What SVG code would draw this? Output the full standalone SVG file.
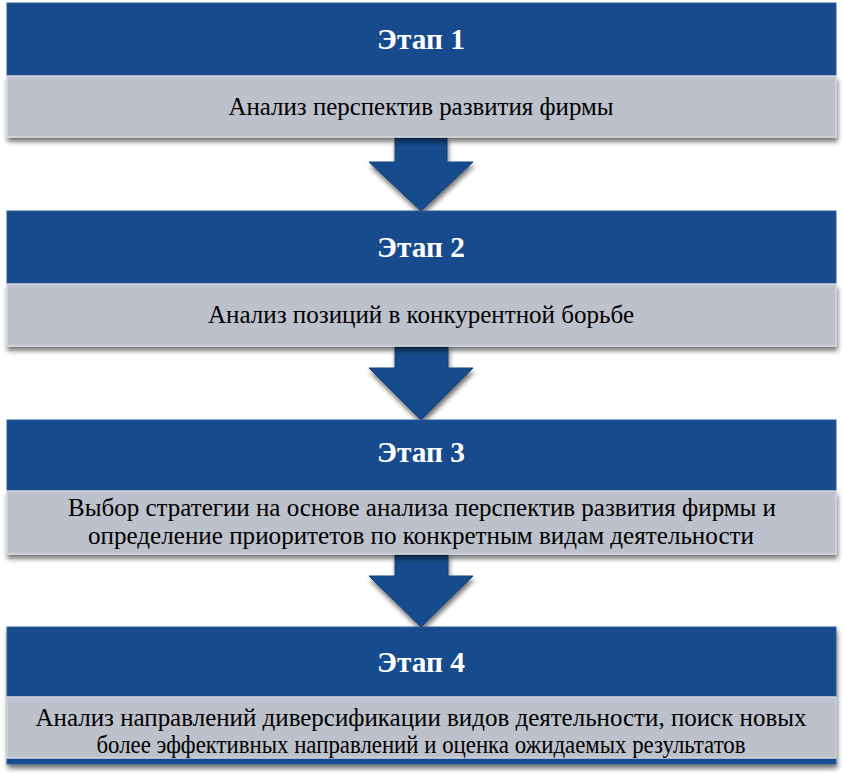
<svg xmlns="http://www.w3.org/2000/svg" width="843" height="773" viewBox="0 0 843 773">
<defs>
<filter id="sh" x="-5%" y="-20%" width="110%" height="150%">
<feGaussianBlur in="SourceAlpha" stdDeviation="2.5"/>
<feOffset dx="1" dy="4" result="b"/>
<feComponentTransfer><feFuncA type="linear" slope="0.55"/></feComponentTransfer>
<feMerge><feMergeNode/><feMergeNode in="SourceGraphic"/></feMerge>
</filter>
</defs>
<style>
.hdr{fill:#174b8d;stroke:#2a5a98;stroke-width:1}
.body{fill:#bcc1cb;stroke:#d3d7de;stroke-width:1.5}
.arr{fill:#174b8d;stroke:#12407c;stroke-width:1}
</style>
<g id="connectors">
<path class="arr" filter="url(#sh)" d="M395,137 L447,137 L447,162 L473,162 L421,211 L369,162 L395,162 Z"/>
<path class="arr" filter="url(#sh)" d="M395,346 L448,346 L448,368 L473,368 L421,420 L369,368 L395,368 Z"/>
<path class="arr" filter="url(#sh)" d="M395,554 L448,554 L448,576 L473,576 L421,627 L369,576 L395,576 Z"/>
</g>
<g font-family="Liberation Serif, Times New Roman, serif" text-anchor="middle">
<g id="stage1">
<rect class="hdr" x="7" y="3" width="829" height="73"/>
<rect class="body" filter="url(#sh)" x="7" y="76" width="829" height="61"/>
<text fill="#fff" font-weight="bold" font-size="29" x="421" y="49" textLength="88" lengthAdjust="spacingAndGlyphs">Этап 1</text>
<text fill="#000" font-size="26" x="421" y="115" textLength="385" lengthAdjust="spacingAndGlyphs">Анализ перспектив развития фирмы</text>
</g>
<g id="stage2">
<rect class="hdr" x="7" y="211" width="829" height="73"/>
<rect class="body" filter="url(#sh)" x="7" y="284" width="829" height="62"/>
<text fill="#fff" font-weight="bold" font-size="29" x="421" y="257" textLength="88" lengthAdjust="spacingAndGlyphs">Этап 2</text>
<text fill="#000" font-size="26" x="421" y="323" textLength="426" lengthAdjust="spacingAndGlyphs">Анализ позиций в конкурентной борьбе</text>
</g>
<g id="stage3">
<rect class="hdr" x="7" y="420" width="829" height="71"/>
<rect class="body" filter="url(#sh)" x="7" y="491" width="829" height="63"/>
<text fill="#fff" font-weight="bold" font-size="29" x="421" y="462" textLength="88" lengthAdjust="spacingAndGlyphs">Этап 3</text>
<text fill="#000" font-size="26" x="422" y="516" textLength="708" lengthAdjust="spacingAndGlyphs">Выбор стратегии на основе анализа перспектив развития фирмы и</text>
<text fill="#000" font-size="26" x="421" y="544" textLength="666" lengthAdjust="spacingAndGlyphs">определение приоритетов по конкретным видам деятельности</text>
</g>
<g id="stage4">
<rect class="hdr" filter="url(#sh)" x="7" y="627" width="829" height="137"/>
<rect class="body" x="7" y="697" width="829" height="61"/>
<text fill="#fff" font-weight="bold" font-size="29" x="421" y="672" textLength="88" lengthAdjust="spacingAndGlyphs">Этап 4</text>
<text fill="#000" font-size="26" x="421" y="726" textLength="771" lengthAdjust="spacingAndGlyphs">Анализ направлений диверсификации видов деятельности, поиск новых</text>
<text fill="#000" font-size="26" x="421" y="753" textLength="649" lengthAdjust="spacingAndGlyphs">более эффективных направлений и оценка ожидаемых результатов</text>
</g>
</g>
</svg>
